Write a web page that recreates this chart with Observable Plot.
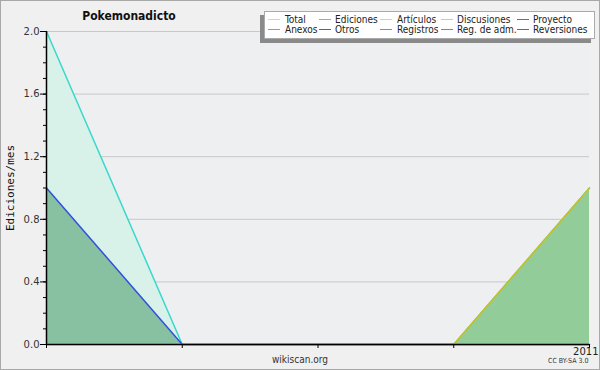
<!DOCTYPE html>
<html><head><meta charset="utf-8">
<script src="https://cdn.jsdelivr.net/npm/d3@7"></script>
<script src="https://cdn.jsdelivr.net/npm/@observablehq/plot@0.6"></script>
<style>
body{margin:0;background:#f0f0f0}
#wrap{position:relative;width:600px;height:370px;background:#f0f0f0;overflow:hidden;font-family:"DejaVu Sans",sans-serif}
#wrap svg{position:absolute;left:0;top:0}
#border{position:absolute;left:0;top:0;width:600px;height:370px;box-sizing:border-box;border:1px solid #a8a8a8;pointer-events:none}
.t{position:absolute;white-space:nowrap;color:#222}
#title{left:129px;top:9px;transform:translateX(-50%);font-weight:bold;font-size:12px;font-stretch:condensed;color:#111}
#ylab{left:10px;top:188px;font-family:"DejaVu Sans Mono",monospace;font-size:11px;transform:translate(-50%,-50%) rotate(-90deg);transform-origin:center;color:#111}
#site{left:300px;top:354px;transform:translateX(-50%);font-size:10px;font-stretch:condensed;color:#333}
#cc{left:548px;top:357px;font-size:7px;font-stretch:condensed;color:#333}
#legend{position:absolute;left:264px;top:11px;width:329px;height:26px;background:#fff;border:1px solid #aaa;box-shadow:-4px 4px 0 #8a8a8a}
.li{position:absolute;height:1px}
.lt{position:absolute;font-size:10px;line-height:10px;color:#222;white-space:nowrap;font-family:"DejaVu Sans",sans-serif;font-stretch:condensed}
</style></head>
<body>
<div id="wrap"></div>
<script>
// Data (monthly index 0..4, last tick = 2011)
const months = [0, 1, 2, 3, 4];
const tickLabels = ["", "", "", "", "2011"];
const total = [2, 0, 0, 0, 1];
const registros = [1, 0, 0, 0, 0];
const discusiones = [0, 0, 0, 0, 1];

const legendNames = ["Total","Ediciones","Artículos","Discusiones","Proyecto","Anexos","Otros","Registros","Reg. de adm.","Reversiones"];
const legendColors = ["#a8e4e0","#80c080","#c8e860","#f0c850","#707070","#f08040","#8040c8","#8080f0","#d050d8","#e03838"];

const rows = (vals) => months.map((m, i) => ({m, v: vals[i]}));
const labeled = months.filter((m, i) => tickLabels[i] !== "");

const plot = Plot.plot({
  width: 600, height: 370,
  marginLeft: 46, marginRight: 11, marginTop: 31, marginBottom: 26,
  style: {background: "transparent", fontFamily: "DejaVu Sans", fontSize: "10px", color: "#333"},
  x: {domain: [0, 4], axis: null, label: null},
  y: {domain: [0, 2], axis: null, label: null},
  marks: [
    Plot.frame({fill: "#eeeff1", stroke: null}),
    Plot.gridY([0.4, 0.8, 1.2, 1.6, 2.0], {stroke: "#c8c8c8", strokeOpacity: 1}),
    Plot.areaY(rows(total), {x: "m", y: "v", fill: "#d8f2ea"}),
    Plot.lineY(rows(total), {x: "m", y: "v", stroke: "#38d8cc", strokeWidth: 1.5}),
    Plot.areaY(rows(registros), {x: "m", y: "v", fill: "#88c0a2"}),
    Plot.lineY(rows(registros), {x: "m", y: "v", stroke: "#3050e0", strokeWidth: 1.5}),
    Plot.areaY(rows(discusiones), {x: "m", y: "v", fill: "#92cc98"}),
    Plot.lineY(rows(discusiones), {x: "m", y: "v", stroke: "#c8c020", strokeWidth: 1.5}),
    Plot.axisY(d3.range(0, 21).map(d => d / 10), {tickSize: 3, tickFormat: () => "", stroke: "#000", label: null}),
    Plot.axisY([0, 0.4, 0.8, 1.2, 1.6, 2.0], {tickSize: 6, tickPadding: 1, tickFormat: d3.format(".1f"), stroke: "#000", fill: "#333", fontSize: 10, label: null}),
    Plot.ruleX([0], {stroke: "#000", strokeWidth: 1.5}),
    Plot.ruleY([0], {stroke: "#000", strokeWidth: 1.5}),
    Plot.axisX(months, {tickSize: 4, tickFormat: () => "", stroke: "#000", label: null}),
    Plot.axisX(labeled, {tickSize: 0, tickPadding: 3, tickFormat: d => tickLabels[months.indexOf(d)], fill: "#222", fontSize: 10, textAnchor: "end", dx: 9, label: null})
  ]
});
const wrap = document.getElementById("wrap");
wrap.appendChild(plot);

function addText(id, txt) {
  const d = document.createElement("div");
  d.className = "t"; d.id = id; d.textContent = txt; wrap.appendChild(d);
}
addText("title", "Pokemonadicto");
addText("ylab", "Ediciones/mes");
addText("site", "wikiscan.org");
addText("cc", "CC BY-SA 3.0");

const lg = document.createElement("div"); lg.id = "legend"; wrap.appendChild(lg);
const lineX = [268, 319, 380, 441, 517];
const textX = [285, 335, 397, 457, 533];
const rowY = [19, 29];
legendNames.forEach((name, i) => {
  const c = i % 5, r = Math.floor(i / 5);
  const l = document.createElement("div"); l.className = "li";
  l.style.left = (lineX[c] - 265) + "px"; l.style.top = (rowY[r] - 12) + "px";
  l.style.width = "12px"; l.style.background = legendColors[i];
  lg.appendChild(l);
  const t = document.createElement("div"); t.className = "lt";
  t.style.left = (textX[c] - 265) + "px"; t.style.top = (rowY[r] - 16) + "px";
  t.textContent = name; lg.appendChild(t);
});
const b = document.createElement("div"); b.id = "border"; wrap.appendChild(b);
</script>
</body></html>
